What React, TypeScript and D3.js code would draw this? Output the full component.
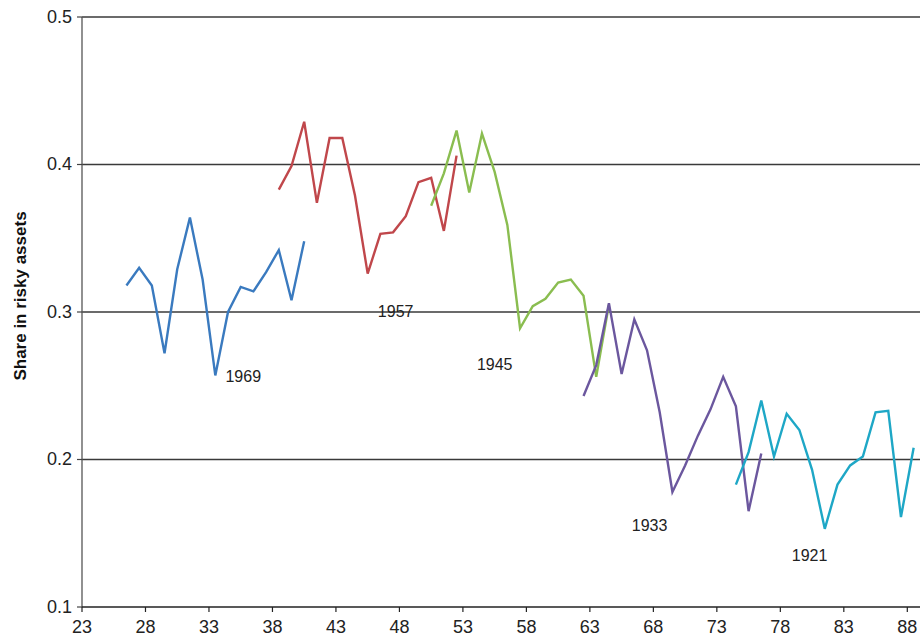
import * as d3 from "d3";

// ages in years; each cohort has 15 yearly observations
const cohorts = ["1969", "1957", "1945", "1933", "1921"];
const startAges = [26, 38, 50, 62, 74];
const colors = ["#3a7abf", "#c0474b", "#8abd50", "#6b579e", "#1ea7c6"];

const share1969 = [0.318, 0.33, 0.318, 0.272, 0.329, 0.364, 0.322, 0.257, 0.3, 0.317, 0.314, 0.327, 0.342, 0.308, 0.348];
const share1957 = [0.383, 0.399, 0.429, 0.374, 0.418, 0.418, 0.379, 0.326, 0.353, 0.354, 0.365, 0.388, 0.391, 0.355, 0.406];
const share1945 = [0.372, 0.394, 0.423, 0.381, 0.421, 0.395, 0.359, 0.289, 0.304, 0.309, 0.32, 0.322, 0.311, 0.256, 0.305];
const share1933 = [0.243, 0.264, 0.306, 0.258, 0.295, 0.274, 0.232, 0.178, 0.196, 0.216, 0.234, 0.256, 0.236, 0.165, 0.204];
const share1921 = [0.183, 0.205, 0.24, 0.202, 0.231, 0.22, 0.193, 0.153, 0.183, 0.196, 0.202, 0.232, 0.233, 0.161, 0.208];
const seriesValues = [share1969, share1957, share1945, share1933, share1921];

const xTicks = [23, 28, 33, 38, 43, 48, 53, 58, 63, 68, 73, 78, 83, 88];
const yTicks = [0.1, 0.2, 0.3, 0.4, 0.5];

// cohort label anchors, in (age, share) units
const labelAges = [34.3, 46.3, 54.1, 66.3, 78.9];
const labelShares = [0.2525, 0.2966, 0.2607, 0.1515, 0.1312];

const W = 923;
const H = 637;
const margin = { left: 82, right: 3, top: 17, bottom: 30 };

export default function App() {
  const x = d3.scaleLinear().domain([23, 89]).range([margin.left, W - margin.right]);
  const y = d3.scaleLinear().domain([0.1, 0.5]).range([H - margin.bottom, margin.top]);

  // observations are centred within each year
  const line = d3
    .line<{ age: number; v: number }>()
    .x((d) => x(d.age + 0.5))
    .y((d) => y(d.v));

  const font = "Arial, 'Liberation Sans', sans-serif";
  const x0 = x.range()[0];
  const x1 = x.range()[1];
  const yBottom = y(0.1);

  return (
    <svg
      width={W}
      height={H}
      style={{ position: "fixed", left: 0, top: 0, background: "#fff" }}
      fontFamily={font}
    >
      {/* gridlines */}
      {yTicks.slice(1).map((t) => (
        <line key={t} x1={x0} x2={x1} y1={y(t)} y2={y(t)} stroke="#3a3a3a" strokeWidth={1.3} />
      ))}

      {/* y axis */}
      <line x1={x0} x2={x0} y1={y(0.5)} y2={yBottom} stroke="#555" strokeWidth={1.3} />
      {yTicks.map((t) => (
        <g key={t}>
          <line x1={x0 - 5} x2={x0} y1={y(t)} y2={y(t)} stroke="#444" strokeWidth={1.2} />
          <text x={x0 - 10} y={y(t)} dy="0.33em" textAnchor="end" fontSize={18} fill="#222">
            {t.toFixed(1)}
          </text>
        </g>
      ))}

      {/* x axis */}
      <line x1={x0} x2={x1} y1={yBottom} y2={yBottom} stroke="#222" strokeWidth={1.3} />
      {xTicks.map((t) => (
        <g key={t}>
          <line x1={x(t)} x2={x(t)} y1={yBottom} y2={yBottom + 5} stroke="#222" strokeWidth={1.2} />
          <text x={x(t)} y={yBottom + 26} textAnchor="middle" fontSize={18} fill="#222">
            {t}
          </text>
        </g>
      ))}

      <text
        transform={`translate(26, ${(y(0.1) + y(0.5)) / 2 - 16}) rotate(-90)`}
        textAnchor="middle"
        fontSize={17}
        fontWeight="bold"
        fill="#111"
      >
        Share in risky assets
      </text>

      {/* cohort lines */}
      {cohorts.map((c, i) => (
        <path
          key={c}
          d={line(seriesValues[i].map((v, j) => ({ age: startAges[i] + j, v }))) ?? ""}
          fill="none"
          stroke={colors[i]}
          strokeWidth={2.4}
          strokeLinejoin="miter"
        />
      ))}

      {/* cohort labels */}
      {cohorts.map((c, i) => (
        <text key={c} x={x(labelAges[i])} y={y(labelShares[i])} fontSize={16} fill="#222">
          {c}
        </text>
      ))}
    </svg>
  );
}
